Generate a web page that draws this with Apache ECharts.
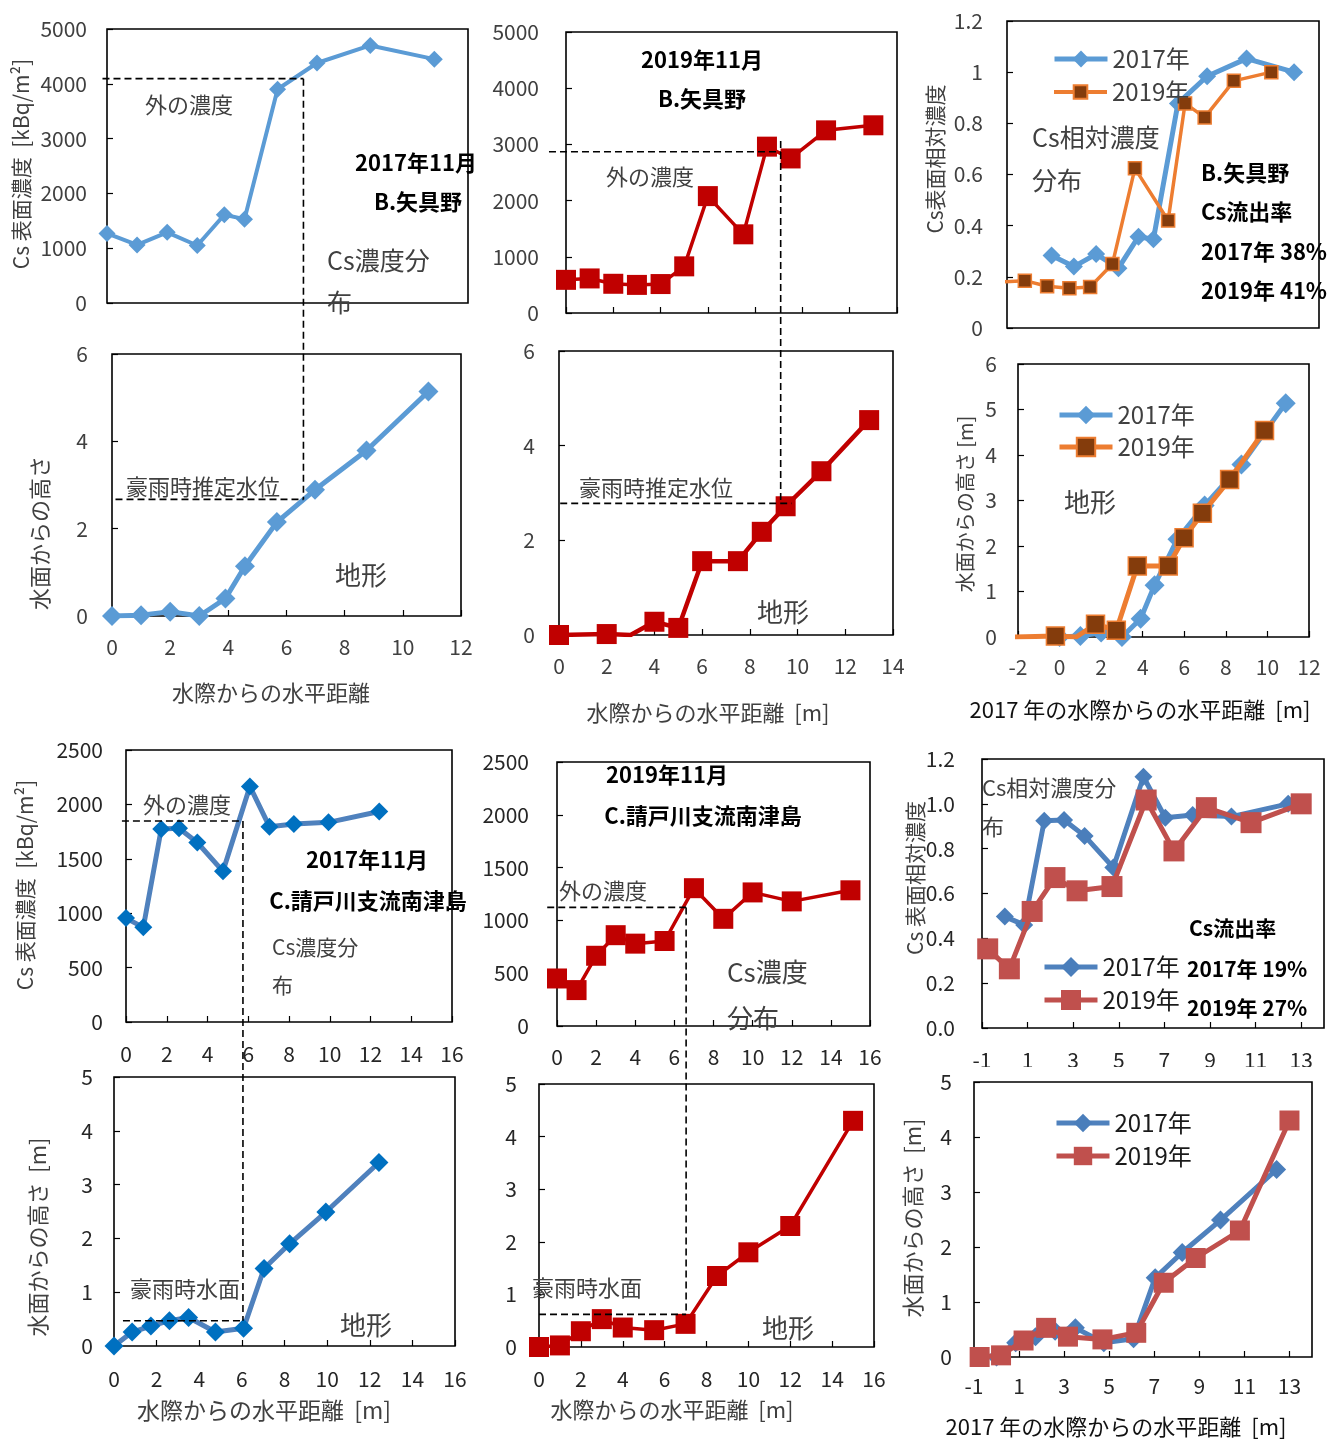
<!DOCTYPE html>
<html><head><meta charset="utf-8">
<script src="https://cdn.jsdelivr.net/npm/echarts/dist/echarts.min.js"></script>
<style>html,body{margin:0;padding:0;background:#fff}#c{width:1343px;height:1439px}</style>
</head><body><div id="c"></div>
<script>
const FONT = '"Noto Sans CJK JP","Noto Sans",sans-serif';

// ===== B. 矢具野 =====
const bX17   = [0, 1, 2, 3, 3.9, 4.57, 5.67, 6.98, 8.75, 10.88];
const bCs17  = [1270, 1060, 1290, 1050, 1610, 1530, 3900, 4380, 4700, 4450];
const bH17   = [0, 0.02, 0.1, 0, 0.4, 1.14, 2.15, 2.89, 3.79, 5.14];
const bRel17 = [0.283, 0.24, 0.289, 0.234, 0.357, 0.347, 0.878, 0.984, 1.053, 1.0];

const bX19     = [0, 1, 2, 3, 4, 5, 6, 7.5, 8.5, 9.5, 11, 13];
const bCs19    = [590, 615, 520, 500, 515, 830, 2080, 1400, 2960, 2750, 3250, 3340];
const bX19on17 = [-2.2, -1.2, -0.2, 0.8, 1.73, 2.73, 3.74, 5.23, 5.99, 6.87, 8.18, 9.86];
const bRel19   = [0.18, 0.185, 0.163, 0.155, 0.16, 0.25, 0.624, 0.42, 0.878, 0.823, 0.966, 1.0];

const bHX19     = [0, 2, 3, 4, 5, 6, 7.5, 8.5, 9.5, 11, 13];
const bHX19on17 = [-2.2, -0.2, 0.8, 1.73, 2.73, 3.74, 5.23, 5.99, 6.87, 8.18, 9.86];
const bH19      = [0, 0.02, 0, 0.28, 0.15, 1.56, 1.56, 2.18, 2.72, 3.46, 4.54];
const bH19Unmarked = [2];

// ===== C. 請戸川支流南津島 =====
const cX17   = [0, 0.85, 1.73, 2.6, 3.5, 4.76, 6.08, 7.04, 8.24, 9.94, 12.43];
const cCs17  = [955, 870, 1775, 1780, 1650, 1385, 2165, 1795, 1820, 1835, 1935];
const cH17   = [0, 0.26, 0.37, 0.47, 0.53, 0.26, 0.33, 1.44, 1.9, 2.49, 3.41];
const cRel17 = [0.497, 0.46, 0.924, 0.928, 0.857, 0.716, 1.121, 0.938, 0.95, 0.943, 1.0];

const cX19     = [0, 1, 2, 3, 4, 5.5, 7, 8.5, 10, 12, 15];
const cCs19    = [450, 340, 665, 860, 780, 805, 1305, 1015, 1265, 1180, 1285];
const cH19     = [0, 0.03, 0.3, 0.53, 0.37, 0.32, 0.44, 1.35, 1.8, 2.3, 4.3];
const cX19on17 = [-0.75, 0.2, 1.2, 2.2, 3.17, 4.7, 6.2, 7.42, 8.84, 10.8, 13.0];
const cRel19   = [0.353, 0.264, 0.52, 0.671, 0.612, 0.631, 1.017, 0.79, 0.983, 0.916, 1.0];

// reference levels (outside concentration, flood water level, edge position)
const bOuter17 = 4094, bFlood17 = 2.67, bEdge17 = 6.53;
const bOuter19 = 2870, bFlood19 = 2.78, bEdge19 = 9.08, bFloodEnd19 = 9.75;
const cOuter17 = 1848, cFlood17 = 0.47, cEdge17 = 5.74;
const cOuter19 = 1123, cFlood19 = 0.62, cEdge19 = 6.6;

const ticksOddX = [-1, 1, 3, 5, 7, 9, 11, 13];

const G = [
  [107, 29, 361, 274],   // A
  [566, 32, 331, 281],   // B
  [1007, 21, 312, 307],  // C
  [112, 354, 349, 262],  // D
  [559, 351, 334, 284],  // E
  [1018, 364, 291, 273], // F
  [126, 750, 326, 272],  // G
  [557, 762, 313, 264],  // H
  [982, 759, 342, 269],  // I
  [114, 1077, 341, 269], // J
  [539, 1084, 335, 263], // K
  [974, 1082, 338, 275]  // L
];

function axis(gi, min, max, interval, o) {
  o = o || {};
  const a = {
    type: 'value', gridIndex: gi, min: min, max: max, interval: interval,
    axisLine: {show: false, onZero: false},
    axisTick: {show: o.ticks !== false, inside: true, length: 6, lineStyle: {color: '#000', width: 1.2}},
    splitLine: {show: false},
    axisLabel: {show: o.labels !== false, margin: (o.margin == null ? 22 : o.margin),
      fontFamily: FONT, fontSize: o.fs || 21, color: o.color || '#404040',
      formatter: o.fmt || (v => String(v))}
  };
  if (o.custom) { a.axisLabel.customValues = o.custom; a.axisTick.customValues = o.custom; }
  return a;
}

function pts(xs, ys, hidden) {
  return xs.map((x, i) => (hidden && hidden.indexOf(i) >= 0) ? {value: [x, ys[i]], symbol: 'none'} : [x, ys[i]]);
}
function line(name, gi, data, st) {
  return {
    name: name, type: 'line', xAxisIndex: gi, yAxisIndex: gi, data: data,
    symbol: st.symbol, symbolSize: st.size, showAllSymbol: true,
    lineStyle: {color: st.line, width: st.width},
    itemStyle: {color: st.fill || st.line, borderColor: st.border || st.fill || st.line, borderWidth: st.bw || 0},
    z: st.z || 2, animation: false, clip: true, emphasis: {disabled: true}
  };
}

const DK = '#262626';
const xAxis = [
  axis(0, 0, 12, 2, {labels: false, ticks: false}),
  axis(1, 0, 14, 2, {labels: false}),
  axis(2, -2, 12, 2, {labels: false, ticks: false}),
  axis(3, 0, 12, 2, {margin: 21}),
  axis(4, 0, 14, 2, {margin: 21}),
  axis(5, -2, 12, 2, {margin: 20}),
  axis(6, 0, 16, 2, {margin: 22, color: DK}),
  axis(7, 0, 16, 2, {margin: 21, color: DK}),
  axis(8, -1, 14, 1, {custom: ticksOddX, margin: 22, color: DK}),
  axis(9, 0, 16, 2, {margin: 23, color: DK}),
  axis(10, 0, 16, 2, {margin: 22, color: DK}),
  axis(11, -1, 14, 1, {custom: ticksOddX, margin: 19, color: DK})
];
const yAxis = [
  axis(0, 0, 5000, 1000, {margin: 20}),
  axis(1, 0, 5000, 1000, {margin: 27}),
  axis(2, 0, 1.2, 0.2, {margin: 24}),
  axis(3, 0, 6, 2, {margin: 24}),
  axis(4, 0, 6, 2, {margin: 24}),
  axis(5, 0, 6, 1, {margin: 21}),
  axis(6, 0, 2500, 500, {margin: 23, color: DK}),
  axis(7, 0, 2500, 500, {margin: 28, color: DK}),
  axis(8, 0, 1.2, 0.2, {margin: 27, color: DK, fmt: v => v.toFixed(1)}),
  axis(9, 0, 5, 1, {margin: 21, color: DK}),
  axis(10, 0, 5, 1, {margin: 22, color: DK}),
  axis(11, 0, 5, 1, {margin: 22, color: DK})
];

const LB = '#5B9BD5', RD = '#C00000', OR = '#ED7D31', BR = '#843C0C';
const SB = '#4F81BD', SBM = '#0070C0', SR = '#C0504D';
const series = [
  line('A17', 0, pts(bX17, bCs17), {symbol: 'diamond', size: 17, line: LB, width: 4}),
  line('B19', 1, pts(bX19, bCs19), {symbol: 'rect', size: 20, line: RD, width: 3.5}),
  line('C17', 2, pts(bX17, bRel17), {symbol: 'diamond', size: 18, line: LB, width: 5}),
  line('C19', 2, pts(bX19on17, bRel19), {symbol: 'rect', size: 13, line: OR, width: 3.5, fill: BR, border: OR, bw: 1.5, z: 3}),
  line('D17', 3, pts(bX17, bH17), {symbol: 'diamond', size: 20, line: LB, width: 5}),
  line('E19', 4, pts(bHX19, bH19, bH19Unmarked), {symbol: 'rect', size: 20, line: RD, width: 4.5}),
  line('F17', 5, pts(bX17, bH17), {symbol: 'diamond', size: 20, line: LB, width: 5}),
  line('F19', 5, pts(bHX19on17, bH19, bH19Unmarked), {symbol: 'rect', size: 18, line: OR, width: 5, fill: BR, border: OR, bw: 1.5, z: 3}),
  line('G17', 6, pts(cX17, cCs17), {symbol: 'diamond', size: 18, line: SB, width: 5, fill: SBM}),
  line('H19', 7, pts(cX19, cCs19), {symbol: 'rect', size: 20, line: RD, width: 3.5}),
  line('I17', 8, pts(cX17, cRel17), {symbol: 'diamond', size: 18, line: SB, width: 5, fill: '#4A7EBB'}),
  line('I19', 8, pts(cX19on17, cRel19), {symbol: 'rect', size: 21, line: SR, width: 5, z: 3}),
  line('J17', 9, pts(cX17, cH17), {symbol: 'diamond', size: 19, line: SB, width: 5, fill: SBM}),
  line('K19', 10, pts(cX19, cH19), {symbol: 'rect', size: 20, line: RD, width: 3.5}),
  line('L17', 11, pts(cX17, cH17), {symbol: 'diamond', size: 19, line: SB, width: 5, fill: '#4A7EBB'}),
  line('L19', 11, pts(cX19on17, cH19), {symbol: 'rect', size: 20, line: SR, width: 5, z: 3})
];

function lg(name, left, cy, ih, color, lw) {
  return {data: [name], left: left, top: cy - 12, padding: 0, itemWidth: 53, itemHeight: ih,
    formatter: n => (n.slice(-2) === '17' ? '2017年' : '2019年'),
    lineStyle: {width: lw},
    textStyle: {fontFamily: FONT, fontSize: 24, color: color}, selectedMode: false};
}
const legend = [
  lg('C17', 1052, 59, 21, '#404040', 5), lg('C19', 1052, 92, 17, '#404040', 4),
  lg('F17', 1057, 415, 23, '#404040', 5), lg('F19', 1057, 447, 23, '#404040', 5),
  lg('I17', 1042, 967, 25, '#1a1a1a', 5), lg('I19', 1042, 1000, 25, '#1a1a1a', 5),
  lg('L17', 1054, 1123, 23, '#1a1a1a', 5), lg('L19', 1054, 1156, 23, '#1a1a1a', 5)
];

function T(t, x, y, size, o) {
  o = o || {};
  return {type: 'text', x: x, y: y, rotation: o.rot || 0, z: 10, silent: true,
    style: {text: t, fontFamily: FONT, fontSize: size, fontWeight: o.bold ? 'bold' : 'normal',
      fill: o.color || (o.bold ? '#000' : '#404040'),
      textAlign: o.align || 'left', align: o.align || 'left', textVerticalAlign: 'middle', verticalAlign: 'middle'}};
}
const R = Math.PI / 2;
const texts = [
  // A
  T('外の濃度', 145, 105, 22),
  T('2017年11月', 416, 163, 22, {bold: true, align: 'center'}),
  T('B.矢具野', 418, 202, 22, {bold: true, align: 'center'}),
  T('Cs濃度分', 327, 260, 25),
  T('布', 327, 302, 25),
  T('Cs 表面濃度  [kBq/m²]', 21, 164, 21, {rot: R, align: 'center'}),
  // B
  T('2019年11月', 702, 60, 22, {bold: true, align: 'center'}),
  T('B.矢具野', 702, 99, 22, {bold: true, align: 'center'}),
  T('外の濃度', 606, 177, 22),
  // C
  T('Cs相対濃度', 1032, 137, 25),
  T('分布', 1032, 180, 25),
  T('B.矢具野', 1201, 173, 22, {bold: true}),
  T('Cs流出率', 1201, 212, 22, {bold: true}),
  T('2017年 38%', 1201, 252, 22, {bold: true}),
  T('2019年 41%', 1201, 291, 22, {bold: true}),
  T('Cs表面相対濃度', 935, 159, 21, {rot: R, align: 'center'}),
  // D
  T('豪雨時推定水位', 126, 487, 22),
  T('地形', 335, 575, 26),
  T('水際からの水平距離', 271, 693, 22, {align: 'center'}),
  T('水面からの高さ', 40, 533, 22, {rot: R, align: 'center'}),
  // E
  T('豪雨時推定水位', 579, 488, 22),
  T('地形', 757, 612, 26),
  T('水際からの水平距離  [m]', 708, 713, 22, {align: 'center'}),
  // F
  T('地形', 1064, 502, 26),
  T('2017 年の水際からの水平距離  [m]', 1140, 710, 22, {align: 'center', color: '#111'}),
  T('水面からの高さ [m]', 965, 504, 20, {rot: R, align: 'center'}),
  // G
  T('外の濃度', 143, 805, 22),
  T('2017年11月', 367, 860, 22, {bold: true, align: 'center'}),
  T('C.請戸川支流南津島', 368, 901, 22, {bold: true, align: 'center'}),
  T('Cs濃度分', 272, 947, 21),
  T('布', 272, 985, 21),
  T('Cs 表面濃度  [kBq/m²]', 25, 885, 21, {rot: R, align: 'center'}),
  // H
  T('2019年11月', 667, 775, 22, {bold: true, align: 'center'}),
  T('C.請戸川支流南津島', 703, 816, 22, {bold: true, align: 'center'}),
  T('外の濃度', 559, 891, 22),
  T('Cs濃度', 727, 972, 26),
  T('分布', 727, 1018, 26),
  // I
  T('Cs相対濃度分', 982, 788, 22),
  T('布', 982, 827, 22),
  T('Cs流出率', 1189, 928, 21, {bold: true}),
  T('2017年 19%', 1187, 969, 21, {bold: true}),
  T('2019年 27%', 1187, 1008, 21, {bold: true}),
  T('Cs 表面相対濃度', 915, 878, 21, {rot: R, align: 'center'}),
  // J
  T('豪雨時水面', 130, 1289, 22),
  T('地形', 340, 1325, 26),
  T('水際からの水平距離  [m]', 264, 1410, 23, {align: 'center'}),
  T('水面からの高さ  [m]', 38, 1237, 22, {rot: R, align: 'center'}),
  // K
  T('豪雨時水面', 532, 1288, 22),
  T('地形', 762, 1328, 26),
  T('水際からの水平距離  [m]', 672, 1410, 22, {align: 'center'}),
  // L
  T('2017 年の水際からの水平距離  [m]', 1116, 1427, 22, {align: 'center', color: '#111'}),
  T('水面からの高さ  [m]', 913, 1218, 22, {rot: R, align: 'center'}),
  // lower half of panel I's x labels is hidden behind panel L's chart area
  {type: 'rect', z: 8, silent: true, shape: {x: 965, y: 1067, width: 378, height: 12}, style: {fill: '#fff'}}
];

const chart = echarts.init(document.getElementById('c'), null, {renderer: 'canvas'});
chart.setOption({
  animation: false,
  backgroundColor: '#fff',
  grid: G.map(g => ({left: g[0], top: g[1], width: g[2], height: g[3], show: true,
    borderColor: '#000', borderWidth: 1.6, backgroundColor: 'transparent'})),
  xAxis: xAxis, yAxis: yAxis, series: series, legend: legend,
  graphic: {elements: texts}
});

function px(gi, x, y) { return chart.convertToPixel({gridIndex: gi}, [x, y]); }
const DASH = {stroke: '#000', lineWidth: 1.6, lineDash: [7, 4], fill: null};
function seg(a, b) { return {type: 'polyline', z: 9, silent: true, shape: {points: [a, b]}, style: DASH}; }
function connector(tg, tLevel, tX0, tXv, bg, bLevel, bX0, bX1, vTopLevel) {
  const p1 = px(tg, tX0, tLevel), p2 = px(tg, tXv, tLevel);
  const vTop = vTopLevel != null ? px(tg, tXv, vTopLevel)[1] : p2[1];
  const by = px(bg, 0, bLevel)[1];
  const q1 = px(bg, bX0, bLevel);
  const qx = bX1 != null ? px(bg, bX1, bLevel)[0] : p2[0];
  return [seg(p1, p2), seg([p2[0], vTop], [p2[0], by]), seg(q1, [qx, by])];
}
const lines = [].concat(
  connector(0, bOuter17, -0.15, bEdge17, 3, bFlood17, 0.12, null),
  connector(1, bOuter19, -0.72, bEdge19, 4, bFlood19, 0.05, bFloodEnd19, 3060),
  connector(6, cOuter17, -0.2, cEdge17, 9, cFlood17, 0.42, null),
  connector(7, cOuter19, -0.5, cEdge19, 10, cFlood19, 0, null)
);
chart.setOption({graphic: {elements: texts.concat(lines)}});
</script></body></html>
